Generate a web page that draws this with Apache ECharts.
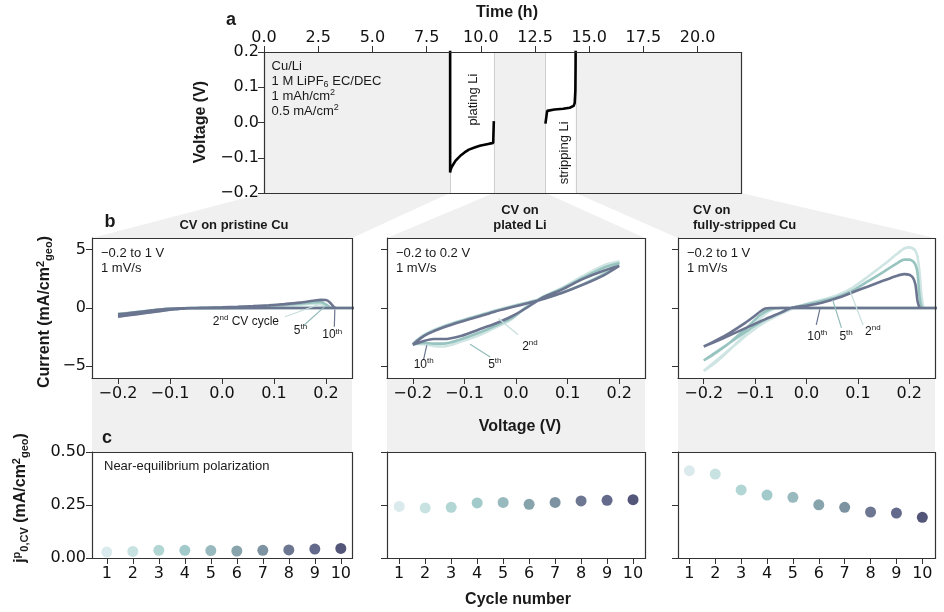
<!DOCTYPE html>
<html><head><meta charset="utf-8">
<script src="https://cdn.jsdelivr.net/npm/echarts@6/dist/echarts.min.js"></script>
<style>html,body{margin:0;padding:0;background:#fff}#c{width:944px;height:612px}</style>
</head><body><div id="c"></div><script>
// ---------------- DATA ----------------
// Panel a: galvanostatic protocol
const timeTicks = [0, 2.5, 5, 7.5, 10, 12.5, 15, 17.5, 20];
const voltTicks = [-0.2, -0.1, 0, 0.1, 0.2];
const cvPeriods = [[0, 8.58], [10.6, 12.98], [14.37, 22]];      // shaded CV periods (h)
const galvPeriods = [[8.58, 10.6], [12.98, 14.37]];              // plating / stripping (h)
const platingTime = [8.585, 8.585, 8.6, 8.65, 8.72, 8.83, 8.95, 9.1, 9.25, 9.45, 9.71, 9.95, 10.17, 10.4, 10.57, 10.6, 10.6];
const platingVolt = [0.3, -0.142, -0.136, -0.127, -0.12, -0.109, -0.101, -0.092, -0.085, -0.077, -0.071, -0.066, -0.063, -0.060, -0.058, -0.057, 0.004];
const strippingTime = [12.98, 13.05, 13.06, 13.1, 13.4, 13.8, 14.1, 14.28, 14.33, 14.36, 14.37, 14.38];
const strippingVolt = [-0.003, -0.003, 0.033, 0.036, 0.037, 0.039, 0.042, 0.047, 0.055, 0.09, 0.16, 0.3];

// Panel b: CV loops (voltage grid shared by cycles, currents per cycle)
const cvTicks = [-0.2, -0.1, 0, 0.1, 0.2];
const currentTicks = [-5, 0, 5];
const cuLoopV = [-0.2, -0.17, -0.14, -0.11, -0.08, -0.05, -0.03, 0, 0.03, 0.06, 0.09, 0.12, 0.15, 0.175, 0.19, 0.2, 0.207, 0.212, 0.216, 0.22, 0.224, 0.23, 0.26,
                 0.26, -0.05, -0.06, -0.07, -0.08, -0.09, -0.1, -0.12, -0.15, -0.175, -0.2];
const pristineI2  = [-0.5, -0.36, -0.22, -0.08, -0.02, 0, 0.01, 0.03, 0.06, 0.1, 0.15, 0.21, 0.28, 0.34, 0.3, 0.1, 0, 0, 0, 0, 0, 0, 0,
                     0, -0.01, -0.02, -0.03, -0.05, -0.08, -0.12, -0.23, -0.4, -0.54, -0.7];
const pristineI5  = [-0.52, -0.38, -0.23, -0.09, -0.02, 0, 0.02, 0.04, 0.08, 0.13, 0.19, 0.27, 0.37, 0.47, 0.5, 0.3, 0.08, 0, 0, 0, 0, 0, 0,
                     0, -0.01, -0.02, -0.03, -0.06, -0.09, -0.13, -0.25, -0.42, -0.56, -0.72];
const pristineI10 = [-0.55, -0.4, -0.25, -0.1, -0.03, 0, 0.02, 0.05, 0.1, 0.16, 0.23, 0.33, 0.46, 0.62, 0.7, 0.68, 0.5, 0.25, 0.05, 0, 0, 0, 0,
                     0, -0.01, -0.02, -0.04, -0.07, -0.1, -0.15, -0.27, -0.45, -0.6, -0.75];
const strippedI2  = [-5.4, -4.3, -3.2, -2.1, -1.2, -0.5, -0.1, 0.35, 0.7, 1.1, 1.75, 2.7, 3.7, 4.6, 5.1, 5.2, 5.1, 4.9, 4.4, 3.0, 1.0, 0, 0,
                     0, 0, -0.05, -0.2, -0.5, -0.9, -1.3, -2.3, -3.6, -4.6, -5.4];
const strippedI5  = [-4.5, -3.6, -2.7, -1.8, -1.0, -0.4, 0, 0.3, 0.6, 0.95, 1.5, 2.3, 3.1, 3.8, 4.15, 4.15, 4.0, 3.7, 3.0, 1.0, 0.1, 0, 0,
                     0, 0, -0.02, -0.1, -0.3, -0.6, -1.0, -1.85, -3.0, -3.8, -4.5];
const strippedI10 = [-3.3, -2.75, -2.15, -1.55, -0.95, -0.4, 0, 0.2, 0.45, 0.85, 1.35, 1.85, 2.35, 2.75, 2.9, 2.85, 2.6, 2.0, 0.6, 0.05, 0, 0, 0,
                     0, 0, 0, 0, -0.05, -0.3, -0.65, -1.3, -2.15, -2.75, -3.3];
const liLoopV = [-0.2, -0.185, -0.17, -0.14, -0.105, -0.07, -0.04, -0.005, 0.024, 0.055, 0.09, 0.13, 0.17, 0.2,
                 0.2, 0.17, 0.13, 0.09, 0.05, 0.02, -0.008, -0.041, -0.073, -0.105, -0.14, -0.16, -0.18, -0.2];
const platedI2  = [-3.05, -2.5, -2.1, -1.55, -1.05, -0.6, -0.2, 0.2, 0.5, 0.85, 1.35, 2.05, 2.95, 4.0,
                   4.0, 3.65, 2.75, 1.75, 0.9, 0.1, -0.95, -1.71, -2.37, -2.86, -3.3, -3.25, -3.1, -3.05];
const platedI5  = [-3.1, -2.55, -2.15, -1.6, -1.1, -0.65, -0.25, 0.15, 0.47, 0.82, 1.32, 2.02, 2.88, 3.85,
                   3.85, 3.45, 2.6, 1.68, 0.88, 0.05, -0.85, -1.55, -2.15, -2.65, -3.05, -3.05, -3.0, -3.1];
const platedI10 = [-3.15, -2.6, -2.2, -1.65, -1.15, -0.7, -0.3, 0.1, 0.43, 0.8, 1.3, 2.0, 2.8, 3.6,
                   3.6, 3.2, 2.5, 1.6, 0.85, 0.0, -0.71, -1.35, -1.86, -2.37, -2.66, -2.66, -2.85, -3.15];
const cycleLabels = ['2nd', '5th', '10th'];

// Panel c: exchange current density vs cycle
const cycles = [1, 2, 3, 4, 5, 6, 7, 8, 9, 10];
const j0Pristine = [0.028, 0.031, 0.036, 0.036, 0.035, 0.033, 0.036, 0.038, 0.042, 0.045];
const j0Plated   = [0.243, 0.236, 0.239, 0.26, 0.262, 0.253, 0.262, 0.269, 0.272, 0.275];
const j0Stripped = [0.412, 0.396, 0.321, 0.297, 0.286, 0.251, 0.239, 0.217, 0.212, 0.192];
const j0Ticks = [0, 0.25, 0.5];

// ---------------- STYLE / LAYOUT ----------------
const cycleColors = ['#dbeaec', '#c8e2e2', '#b2d6d4', '#a2cacb', '#98b9bd', '#87a3ac', '#7e93a2', '#6e7792', '#636a8c', '#535679'];
const cvColors = ['#cfe5e3', '#98c4c0', '#6c7590'];
const GRAY = '#f0f0f0', INK = '#1a1a1a', FRAME = '#333';
const SANS = '"Liberation Sans", Arial, sans-serif';
const TICKF = '"DejaVu Sans", sans-serif';
const LA = {left: 264, top: 52, width: 477, height: 141};
const colLeft = [92, 387, 678], colWidth = [260, 258, 257];
const bTop = 238, bH = 140, cTop = 452, cH = 106;
const cXRange = [[0.43, 10.43], [0.53, 10.46], [0.56, 10.49]];

const minus = s => s.replace('-', '\u2212');
function vAxis(gi, min, max, ticks, fmt, opts) {
  opts = opts || {};
  return {
    type: 'value', gridIndex: gi, min: min, max: max, position: opts.pos,
    axisLine: {show: true, onZero: false, lineStyle: {color: FRAME, width: 1}},
    axisTick: {show: true, length: 6, customValues: ticks, lineStyle: {color: FRAME, width: 1}},
    axisLabel: {show: opts.labels !== false, customValues: ticks, formatter: fmt, color: '#111',
      fontFamily: TICKF, fontSize: 16, margin: opts.margin || 5},
    splitLine: {show: false}
  };
}
const grids = [], xAxes = [], yAxes = [], series = [];
grids.push(Object.assign({show: true, backgroundColor: GRAY, borderWidth: 0, outerBoundsMode: 'none'}, LA));
xAxes.push(vAxis(0, 0, 22, timeTicks, v => v.toFixed(1), {pos: 'top', margin: 6}));
yAxes.push(vAxis(0, -0.2, 0.2, voltTicks, v => minus(v.toFixed(1))));
for (let i = 0; i < 3; i++) {
  grids.push({show: true, backgroundColor: '#fff', borderWidth: 0, outerBoundsMode: 'none', left: colLeft[i], width: colWidth[i], top: bTop, height: bH});
  xAxes.push(vAxis(1 + i, -0.25, 0.25, cvTicks, v => minus(v.toFixed(1)), {margin: 8}));
  yAxes.push(vAxis(1 + i, -6, 6, currentTicks, v => minus(String(v)), {labels: i === 0, margin: 6}));
}
for (let i = 0; i < 3; i++) {
  grids.push({show: true, backgroundColor: '#fff', borderWidth: 0, outerBoundsMode: 'none', left: colLeft[i], width: colWidth[i], top: cTop, height: cH});
  xAxes.push(vAxis(4 + i, cXRange[i][0], cXRange[i][1], cycles, v => String(v), {margin: 8}));
  yAxes.push(vAxis(4 + i, 0, 0.5, j0Ticks, v => v.toFixed(2), {labels: i === 0, margin: 6}));
}
const zip = (a, b) => a.map((v, k) => [v, b[k]]);
// panel a
series.push({type: 'line', xAxisIndex: 0, yAxisIndex: 0, data: [], z: 1, silent: true,
  markArea: {silent: true, itemStyle: {color: '#fff'}, data: galvPeriods.map(p => [{coord: [p[0], -0.2]}, {coord: [p[1], 0.2]}])}});
[[platingTime, platingVolt], [strippingTime, strippingVolt]].forEach(d => series.push({
  type: 'line', xAxisIndex: 0, yAxisIndex: 0, data: zip(d[0], d[1]), showSymbol: false, z: 5, clip: true,
  lineStyle: {color: '#000', width: 2.6}}));
// panel b
const loops = [[cuLoopV, [pristineI2, pristineI5, pristineI10]], [liLoopV, [platedI2, platedI5, platedI10]], [cuLoopV, [strippedI2, strippedI5, strippedI10]]];
loops.forEach((L, i) => L[1].forEach((I, k) => series.push({
  type: 'line', name: cycleLabels[k], xAxisIndex: 1 + i, yAxisIndex: 1 + i, data: zip(L[0], I), showSymbol: false,
  smooth: 0.25, clip: true, z: 3 + k, lineStyle: {color: cvColors[k], width: 2.6}})));
// panel c
[j0Pristine, j0Plated, j0Stripped].forEach((j, i) => series.push({
  type: 'scatter', xAxisIndex: 4 + i, yAxisIndex: 4 + i, data: zip(cycles, j), symbolSize: 11,
  itemStyle: {color: p => cycleColors[p.dataIndex], opacity: 1}}));

const chart = echarts.init(document.getElementById('c'), null, {renderer: 'canvas'});
chart.setOption({animation: false, backgroundColor: '#fff', grid: grids, xAxis: xAxes, yAxis: yAxes, series: series});

// ---------------- ANNOTATIONS ----------------
const P = (gi, x, y) => chart.convertToPixel({gridIndex: gi}, [x, y]);
function T(x, y, t, o) {
  o = o || {};
  const size = o.size || 13, w = o.weight || 'normal', s = Math.round(size * 0.68);
  const base = {fontFamily: SANS, fontWeight: w, fill: INK};
  return {type: 'text', x: x, y: y, rotation: o.rot || 0, z: 100, silent: true,
    style: {text: t, fill: INK, font: w + ' ' + size + 'px ' + SANS, fontSize: size, fontFamily: SANS, fontWeight: w,
      align: o.align || 'left', verticalAlign: 'middle', textAlign: o.align || 'left', textVerticalAlign: 'middle',
      rich: {n: Object.assign({fontSize: size}, base),
             sup: Object.assign({fontSize: s, padding: [0, 0, Math.round(size * 0.55), 0]}, base),
             sub: Object.assign({fontSize: s, padding: [Math.round(size * 0.5), 0, 0, 0]}, base)}}};
}
function Ln(p1, p2, color) {
  return {type: 'line', z: 90, silent: true, shape: {x1: p1[0], y1: p1[1], x2: p2[0], y2: p2[1]}, style: {stroke: color, lineWidth: 1.2}};
}
const g = [];
// connector polygons
const aBottom = LA.top + LA.height;
cvPeriods.forEach((p, i) => {
  const x1 = P(0, p[0], 0)[0], x2 = P(0, p[1], 0)[0];
  const l = colLeft[i], r = colLeft[i] + colWidth[i];
  g.push({type: 'polygon', z: -10, silent: true, shape: {points: [[x1, aBottom], [x2, aBottom], [r, bTop], [r, cTop], [l, cTop], [l, bTop]]}, style: {fill: GRAY}});
});
// boundaries of galvanostatic periods
galvPeriods.forEach(p => p.forEach(t => {
  const x = Math.round(P(0, t, 0)[0]) + 0.5;
  g.push({type: 'line', z: 3, silent: true, shape: {x1: x, y1: LA.top, x2: x, y2: aBottom}, style: {stroke: '#cfcfcf', lineWidth: 1}});
}));
// frames
const frames = [[LA.left, LA.top, LA.width, LA.height]];
for (let i = 0; i < 3; i++) { frames.push([colLeft[i], bTop, colWidth[i], bH]); frames.push([colLeft[i], cTop, colWidth[i], cH]); }
frames.forEach(f => g.push({type: 'rect', z: 60, silent: true, shape: {x: f[0] + 0.5, y: f[1] + 0.5, width: f[2], height: f[3]}, style: {fill: 'none', stroke: FRAME, lineWidth: 1.2}}));
// panel a texts
g.push(T(231, 20, 'a', {size: 18, weight: 'bold', align: 'center'}));
g.push(T(507, 13, 'Time (h)', {size: 16, weight: 'bold', align: 'center'}));
g.push(T(201, 122, 'Voltage (V)', {size: 16, weight: 'bold', align: 'center', rot: Math.PI / 2}));
const a0 = P(0, 0.35, 0.159);
['Cu/Li', '1 M LiPF{sub|6} EC/DEC', '1 mAh/cm{sup|2}', '0.5 mA/cm{sup|2}'].forEach((t, k) => g.push(T(a0[0], a0[1] + 15 * k, t, {size: 13})));
let q = P(0, 9.64, 0.065); g.push(T(q[0], q[1], 'plating Li', {size: 13, align: 'center', rot: Math.PI / 2}));
q = P(0, 13.86, -0.086); g.push(T(q[0], q[1], 'stripping Li', {size: 13, align: 'center', rot: Math.PI / 2}));
// panel b texts
g.push(T(110, 222, 'b', {size: 18, weight: 'bold', align: 'center'}));
g.push(T(234, 225, 'CV on pristine Cu', {size: 13, weight: 'bold', align: 'center'}));
g.push(T(520, 210, 'CV on', {size: 13, weight: 'bold', align: 'center'}));
g.push(T(520, 225, 'plated Li', {size: 13, weight: 'bold', align: 'center'}));
g.push(T(693, 210, 'CV on', {size: 13, weight: 'bold'}));
g.push(T(693, 225, 'fully-stripped Cu', {size: 13, weight: 'bold'}));
g.push(T(45, 312, 'Current (mA/cm{sup|2}{sub|geo})', {size: 16, weight: 'bold', align: 'center', rot: Math.PI / 2}));
g.push(T(520, 427, 'Voltage (V)', {size: 16, weight: 'bold', align: 'center'}));
const scanTxt = [['\u22120.2 to 1 V', '1 mV/s'], ['\u22120.2 to 0.2 V', '1 mV/s'], ['\u22120.2 to 1 V', '1 mV/s']];
scanTxt.forEach((s, i) => { g.push(T(colLeft[i] + 9, 253, s[0])); g.push(T(colLeft[i] + 9, 268, s[1])); });
// cycle labels in b: [grid, text, textPos, leaderFrom, leaderTo, colorIndex]
const bNotes = [
  [1, '2{sup|nd} CV cycle', [0.046, -1.15], [0.121, -0.75], [0.185, 0.28], 0],
  [1, '5{sup|th}', [0.151, -1.95], [0.157, -1.5], [0.198, 0.14], 1],
  [1, '10{sup|th}', [0.212, -2.3], [0.216, -1.6], [0.217, -0.12], 2],
  [2, '10{sup|th}', [-0.179, -4.86], [-0.179, -4.4], [-0.173, -3.2], 2],
  [2, '5{sup|th}', [-0.041, -4.86], [-0.05, -4.2], [-0.089, -3.1], 1],
  [2, '2{sup|nd}', [0.027, -3.29], [0.004, -2.3], [-0.034, -0.9], 0],
  [3, '10{sup|th}', [0.021, -2.43], [0.019, -1.45], [0.026, -0.1], 2],
  [3, '5{sup|th}', [0.077, -2.43], [0.068, -1.7], [0.051, 0.7], 1],
  [3, '2{sup|nd}', [0.129, -2.0], [0.11, -1.45], [0.084, 1.55], 0]
];
bNotes.forEach(n => {
  const tp = P(n[0], n[2][0], n[2][1]);
  g.push(T(tp[0], tp[1], n[1], {size: 12, align: 'center'}));
  g.push(Ln(P(n[0], n[3][0], n[3][1]), P(n[0], n[4][0], n[4][1]), ['#c6dedd', '#93bcb9', '#6c7590'][n[5]]));
});
// panel c texts
g.push(T(107, 438, 'c', {size: 18, weight: 'bold', align: 'center'}));
g.push(T(104, 466, 'Near-equilibrium polarization', {size: 13}));
g.push(T(21, 498, 'j{sup|p}{sub|0,CV} (mA/cm{sup|2}{sub|geo})', {size: 16, weight: 'bold', align: 'center', rot: Math.PI / 2}));
g.push(T(518, 600, 'Cycle number', {size: 16, weight: 'bold', align: 'center'}));
chart.setOption({graphic: g});
</script></body></html>
